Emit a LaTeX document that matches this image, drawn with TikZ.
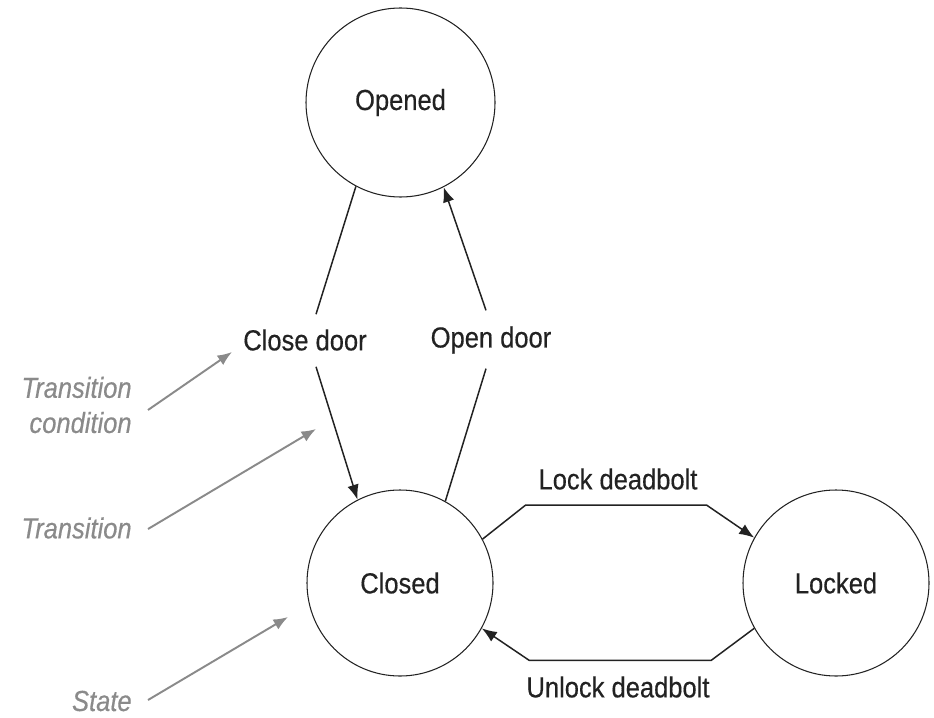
\documentclass[tikz,border=0pt]{standalone}
\usepackage{fontspec}
\setmainfont{Liberation Sans}[FakeStretch=0.88, FakeBold=0.4]
\usepackage{tikz}
\usetikzlibrary{arrows.meta}
\usetikzlibrary{positioning}
\definecolor{notegray}{RGB}{138,138,138}
\definecolor{inkblack}{RGB}{34,34,34}
\tikzstyle{state_circle}=[circle, draw=inkblack, line width=0.6pt, inner sep=0pt, minimum size=37.2mm, text=inkblack]
\tikzstyle{trans_label}=[inner sep=1pt, text=inkblack]
\tikzstyle{trans_line}=[draw=inkblack, line width=0.85pt, -{Latex[length=3mm,width=2.3mm]}]
\tikzstyle{note_text}=[text=notegray, font=\itshape\fontsize{16.5}{20}\selectfont, align=right, inner sep=0pt]
\tikzstyle{note_arrow}=[draw=notegray, line width=1.1pt, -{Latex[length=2.9mm,width=2.3mm]}]

\begin{document}
\begin{tikzpicture}[x=0.2mm, y=-0.2mm, font=\fontsize{16.5}{20}\selectfont]
          \useasboundingbox (0,0) rectangle (934,717);
          \node[state_circle, minimum size=37.8mm] (opened) at (400.5,102.5){Opened};
          \node[state_circle] (closed) at (400,583){Closed};
          \node[state_circle] (locked) at (836,583){Locked};
          \node[trans_label] (closedoor) at (305,340){Close door};
          \node[trans_label] (opendoor) at (491,340){Open door};
          \node[trans_label] (lockbolt) at (618,479){Lock deadbolt};
          \node[trans_label] (unlockbolt) at (618,687){Unlock deadbolt};
          \draw[trans_line, -] (opened.242) -- ([xshift=2.2mm, yshift=2.6mm]closedoor.north);
          \draw[trans_line] ([xshift=2.2mm, yshift=-2.8mm]closedoor.south) -- (closed.117);
          \draw[trans_line, -] (closed.61) -- ([xshift=-1mm, yshift=-2.6mm]opendoor.south);
          \draw[trans_line] ([xshift=-1mm, yshift=2.8mm]opendoor.north) -- (opened.297);
          \draw[trans_line] (closed.28) -- ++(43,-34) -- ++(181,0) -- (locked.151);
          \draw[trans_line] (locked.209.5) -- ++(-43,32) -- ++(-182,0) -- (closed.331);
          % annotations
          \node[note_text, anchor=east] (noteCond) at (132,405){Transition\\condition};
          \node[note_text, anchor=east] (noteTrans) at (132,528){Transition};
          \node[note_text, anchor=east] (noteState) at (132,701){State};
          \coordinate (condTip) at (232,352);
          \coordinate (transTip) at (316,429);
          \coordinate (stateTip) at (288,617);
          \draw[note_arrow] ([xshift=3.2mm, yshift=-1mm]noteCond.east) -- (condTip);
          \draw[note_arrow] ([xshift=3.2mm, yshift=-0.2mm]noteTrans.east) -- (transTip);
          \draw[note_arrow] ([xshift=3.2mm, yshift=0.2mm]noteState.east) -- (stateTip);
        \end{tikzpicture}
\end{document}
